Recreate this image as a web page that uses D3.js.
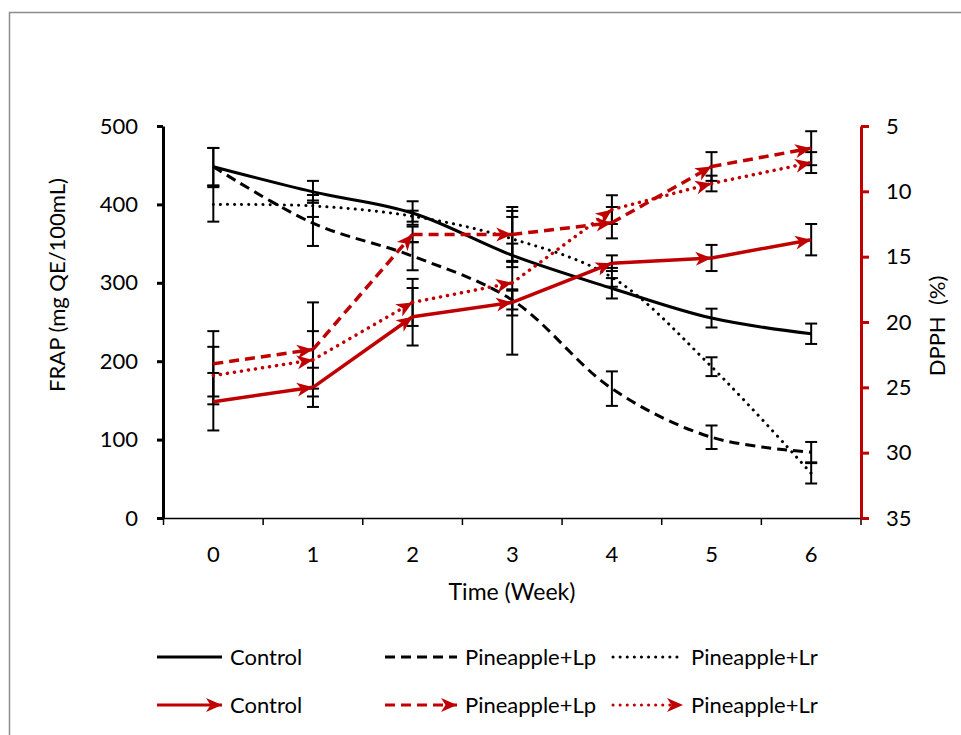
<!DOCTYPE html>
<html>
<head>
<meta charset="utf-8">
<script src="https://cdn.jsdelivr.net/npm/d3@7/dist/d3.min.js"></script>
<style>
  body { margin: 0; background: #fff; }
  text { font-family: Lato, "Noto Sans", sans-serif; fill: #000; }
</style>
</head>
<body>
<svg id="chart" width="961" height="735"></svg>
<script>
// weeks on the x axis
const weeks = [0, 1, 2, 3, 4, 5, 6];

// FRAP (left axis), mg QE/100mL
const frapControl = [448, 416, 389, 335, 293, 255, 235];
const frapControlErr = [24, 14, 15, 15, 13, 12, 13];
const frapLp = [448, 376, 334, 278, 165, 103, 84];
const frapLpErr = [24, 29, 18, 12, 22, 15, 13];
const frapLr = [400, 398, 385, 356, 307, 193, 57];
const frapLrErr = [22, 14, 7, 28, 12, 12, 13];

// DPPH (right axis, reversed), %
const dpphControl = [26.1, 25.0, 19.6, 18.5, 15.5, 15.1, 13.7];
const dpphControlErr = [2.2, 1.5, 2.2, 1.0, 0.6, 1.0, 1.2];
const dpphLp = [23.2, 22.1, 13.3, 13.3, 12.4, 8.1, 6.7];
const dpphLpErr = [2.5, 3.6, 0.6, 2.1, 1.2, 1.1, 1.3];
const dpphLr = [24.1, 22.9, 18.5, 17.0, 11.4, 9.4, 7.8];
const dpphLrErr = [2.2, 2.2, 1.8, 5.5, 1.1, 0.6, 0.8];

const leftTicks = [0, 100, 200, 300, 400, 500];
const rightTicks = [5, 10, 15, 20, 25, 30, 35];
const seriesNames = ['Control', 'Pineapple+Lp', 'Pineapple+Lr'];

const RED = '#c00000';
const FS = 22;
const styles = [
    { dash: null, cap: 'butt' },
    { dash: '10,6', cap: 'butt' },
    { dash: '0.1,7', cap: 'round' }
];

const svg = d3.select('#chart');

// outer chart border
svg.append('rect')
    .attr('x', 9.5).attr('y', 12.5)
    .attr('width', 1000).attr('height', 1000)
    .attr('fill', 'none')
    .attr('stroke', '#8c8c8c')
    .attr('stroke-width', 1.5);

const x = d3.scaleBand().domain(weeks).range([163.5, 861]);
const cx = d => x(d) + x.bandwidth() / 2;
const yL = d3.scaleLinear().domain([0, 500]).range([518, 126]);
const yR = d3.scaleLinear().domain([5, 35]).range([126, 518]);

// arrow marker for red series
const defs = svg.append('defs');
defs.append('marker')
    .attr('id', 'arrow')
    .attr('markerUnits', 'userSpaceOnUse')
    .attr('viewBox', '-1 -9 19 18')
    .attr('refX', 16).attr('refY', 0)
    .attr('markerWidth', 19).attr('markerHeight', 18)
    .attr('orient', 'auto')
    .append('path')
    .attr('d', 'M0,-7 L16,0 L0,7 L4.5,0 Z')
    .attr('fill', RED);

// bottom axis
const bottom = svg.append('g').attr('transform', 'translate(0,518)');
bottom.call(d3.axisBottom(x).tickSize(0).tickPadding(28))
    .call(g => g.select('.domain').attr('stroke', '#000').attr('stroke-width', 1.5));
bottom.selectAll('.tick text').attr('font-size', FS).attr('font-family', 'Lato, sans-serif');
const edges = weeks.map(d => x(d)).concat([x.range()[1]]);
bottom.selectAll('.edge').data(edges).enter().append('line')
    .attr('x1', d => d).attr('x2', d => d)
    .attr('y1', 0).attr('y2', 7)
    .attr('stroke', '#000').attr('stroke-width', 1.5);

// left axis
const left = svg.append('g').attr('transform', 'translate(163,0)');
left.call(d3.axisLeft(yL).tickValues(leftTicks).tickSize(6).tickSizeOuter(0).tickPadding(19))
    .call(g => g.select('.domain').attr('stroke', '#000').attr('stroke-width', 3))
    .call(g => g.selectAll('.tick line').attr('stroke', '#000').attr('stroke-width', 3));
left.selectAll('.tick text').attr('font-size', FS).attr('font-family', 'Lato, sans-serif');

// right axis
const right = svg.append('g').attr('transform', 'translate(861,0)');
right.call(d3.axisRight(yR).tickValues(rightTicks).tickSize(8).tickSizeOuter(0).tickPadding(17))
    .call(g => g.select('.domain').attr('stroke', RED).attr('stroke-width', 3))
    .call(g => g.selectAll('.tick line').attr('stroke', RED).attr('stroke-width', 3));
right.selectAll('.tick text').attr('font-size', FS).attr('font-family', 'Lato, sans-serif').attr('fill', '#000');

// axis titles
svg.append('text')
    .attr('transform', 'translate(65,285) rotate(-90)')
    .attr('text-anchor', 'middle')
    .attr('font-size', FS)
    .text('FRAP (mg QE/100mL)');
svg.append('text')
    .attr('transform', 'translate(945,326) rotate(-90)')
    .attr('text-anchor', 'middle')
    .attr('font-size', FS)
    .attr('xml:space', 'preserve')
    .text('DPPH  (%)');
svg.append('text')
    .attr('x', 512).attr('y', 600)
    .attr('text-anchor', 'middle')
    .attr('font-size', 23)
    .text('Time (Week)');

const frapSeries = [
    { values: frapControl, err: frapControlErr },
    { values: frapLp, err: frapLpErr },
    { values: frapLr, err: frapLrErr }
];
const dpphSeries = [
    { values: dpphControl, err: dpphControlErr },
    { values: dpphLp, err: dpphLpErr },
    { values: dpphLr, err: dpphLrErr }
];

// error bars (all black)
function drawErrors(series, scale) {
    const g = svg.append('g');
    series.forEach(s => {
        weeks.forEach((w, i) => {
            const lo = scale(s.values[i] - s.err[i]);
            const hi = scale(s.values[i] + s.err[i]);
            g.append('line').attr('x1', cx(w)).attr('x2', cx(w))
                .attr('y1', lo).attr('y2', hi)
                .attr('stroke', '#000').attr('stroke-width', 2);
            [lo, hi].forEach(yy => g.append('line')
                .attr('x1', cx(w) - 6).attr('x2', cx(w) + 6)
                .attr('y1', yy).attr('y2', yy)
                .attr('stroke', '#000').attr('stroke-width', 2));
        });
    });
}
drawErrors(frapSeries, yL);
drawErrors(dpphSeries, yR);

// black FRAP lines (smoothed)
const lineL = d3.line()
    .x((d, i) => cx(weeks[i]))
    .y(d => yL(d))
    .curve(d3.curveCatmullRom);
frapSeries.forEach((s, k) => {
    svg.append('path')
        .attr('d', lineL(s.values))
        .attr('fill', 'none')
        .attr('stroke', '#000')
        .attr('stroke-width', 3)
        .attr('stroke-dasharray', styles[k].dash)
        .attr('stroke-linecap', styles[k].cap);
});

// red DPPH lines, arrow on every segment
dpphSeries.forEach((s, k) => {
    const g = svg.append('g');
    for (let i = 1; i < weeks.length; i++) {
        g.append('line')
            .attr('x1', cx(weeks[i - 1])).attr('y1', yR(s.values[i - 1]))
            .attr('x2', cx(weeks[i])).attr('y2', yR(s.values[i]))
            .attr('stroke', RED)
            .attr('stroke-width', 3.5)
            .attr('stroke-dasharray', styles[k].dash)
            .attr('stroke-linecap', styles[k].cap)
            .attr('marker-end', 'url(#arrow)');
    }
});

// legend
const legendX = [157, 385, 613];
const legendW = [65, 72, 70];
const rows = [{ y: 657, color: '#000', arrow: false }, { y: 705, color: RED, arrow: true }];
rows.forEach(r => {
    seriesNames.forEach((name, k) => {
        svg.append('line')
            .attr('x1', legendX[k]).attr('x2', legendX[k] + legendW[k])
            .attr('y1', r.y).attr('y2', r.y)
            .attr('stroke', r.color)
            .attr('stroke-width', 3)
            .attr('stroke-dasharray', styles[k].dash)
            .attr('stroke-linecap', styles[k].cap)
            .attr('marker-end', r.arrow ? 'url(#arrow)' : null);
        svg.append('text')
            .attr('x', legendX[k] + legendW[k] + 8)
            .attr('y', r.y)
            .attr('dy', '0.35em')
            .attr('font-size', FS)
            .text(name);
    });
});
</script>
</body>
</html>
